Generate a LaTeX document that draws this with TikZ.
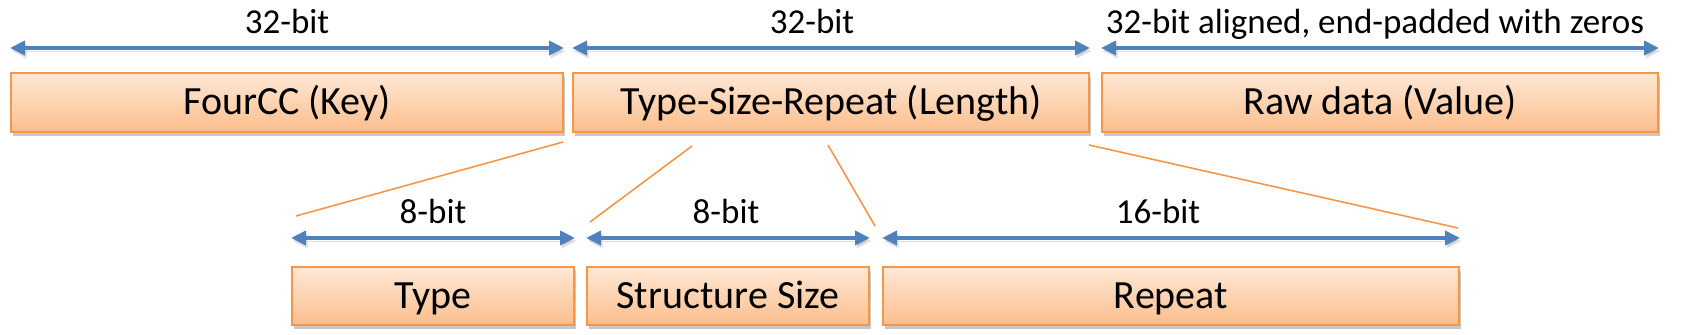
\documentclass[tikz,border=0pt]{standalone}
\usepackage{fontspec}
\setmainfont{Carlito}
\definecolor{FieldLine}{HTML}{F79646}
\definecolor{FieldTop}{HTML}{FEE8D6}
\definecolor{FieldBottom}{HTML}{FBBE8C}
\definecolor{BitBlue}{HTML}{4F81BD}
\usetikzlibrary{arrows.meta,shadows}

\tikzset{
  field/.style={draw=FieldLine, line width=1pt, top color=FieldTop,
    bottom color=FieldBottom, inner sep=0pt, text height=16.5pt,
    text depth=4pt, font=\fontsize{20}{24}\selectfont,
    drop shadow={shadow xshift=1.2pt, shadow yshift=-1.8pt, opacity=0.22, fill=black}},
  bitspan/.style={draw=BitBlue, line width=2pt,
    {Triangle[length=7.5pt,width=7pt]}-{Triangle[length=7.5pt,width=7pt]},
    preaction={draw=black!35, opacity=0.35, transform canvas={xshift=0.8pt,yshift=-1.5pt}}},
  bitlabel/.style={anchor=base, font=\fontsize{17.5}{21}\selectfont},
  fanline/.style={draw=FieldLine, line width=0.8pt},
}

\begin{document}
\begin{tikzpicture}[x=0.5pt,y=-0.5pt]
  \useasboundingbox (0,0) rectangle (1682,335);
  % key / length / value
  \foreach \name/\cx/\w/\lab in {fourcc/287/276pt/FourCC (Key),
      tsr/831/258pt/Type-Size-Repeat (Length), raw/1380/278pt/Raw data (Value)}
    \node[field, minimum width=\w, minimum height=29.5pt] (\name) at (\cx,102.5) {\lab};
  % length split up
  \foreach \name/\cx/\w/\lab in {type/433/141pt/Type,
      ssize/728/141pt/Structure Size, repeat/1171/288pt/Repeat}
    \node[field, minimum width=\w, minimum height=29pt] (\name) at (\cx,296) {\lab};

  \foreach \f/\up/\dx/\lab in {fourcc/12pt/0pt/32-bit, tsr/12pt/-9.5pt/32-bit,
      raw/12pt/-2.5pt/{32-bit aligned, end-padded with zeros},
      type/14pt/0pt/8-bit, ssize/14pt/-1pt/8-bit, repeat/14pt/-6.5pt/16-bit}
    \draw[bitspan] ([yshift=\up]\f.north west) -- ([yshift=\up]\f.north east)
      node[bitlabel, midway, yshift=7pt, xshift=\dx] {\lab};

  \coordinate (fanA1) at (563,142);  \coordinate (fanA2) at (296,216);
  \coordinate (fanB1) at (692,146);  \coordinate (fanB2) at (590,222);
  \coordinate (fanC1) at (828,145);  \coordinate (fanC2) at (875,226);
  \coordinate (fanD1) at (1089,145); \coordinate (fanD2) at (1458,228);
  \foreach \p in {A,B,C,D}
    \draw[fanline] (fan\p1) -- (fan\p2);
\end{tikzpicture}
\end{document}
